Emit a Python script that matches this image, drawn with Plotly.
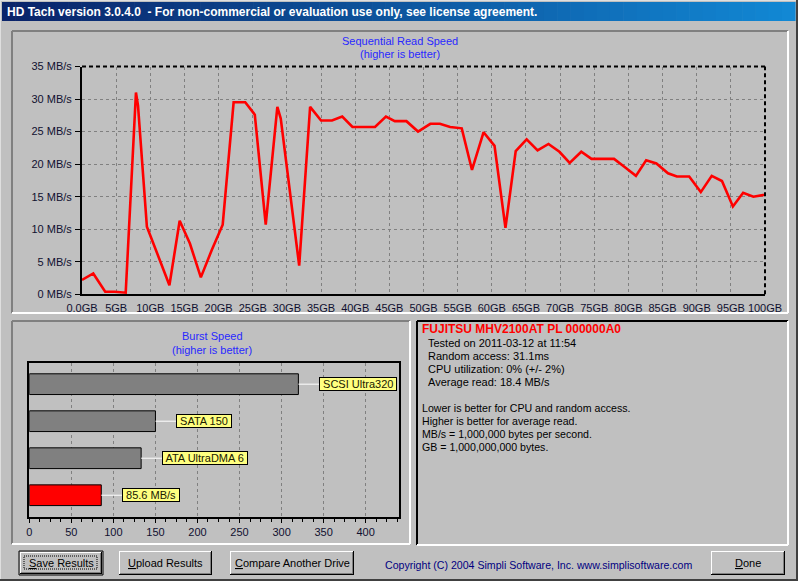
import plotly.graph_objects as go

W, H = 798, 581
FONT = "Liberation Sans, Arial, sans-serif"

# ---------------- data ----------------
position_gb = [0, 1.65, 3.4, 4.8, 6.4, 7.9, 8.2, 9.5, 12.8, 14.3, 15.8, 17.4, 19.0, 20.6,
               22.2, 23.9, 25.3, 26.9, 28.6, 29.1, 31.8, 33.4, 35.0, 36.6, 38.1, 39.6,
               42.9, 44.5, 45.8, 47.5, 49.2, 51.0, 52.4, 53.9, 55.6, 57.1, 58.8, 60.4,
               62.0, 63.5, 65.1, 66.7, 68.3, 69.9, 71.4, 73.1, 74.6, 76.2, 77.9, 79.4,
               81.1, 82.6, 84.1, 85.8, 87.1, 88.9, 90.6, 92.2, 93.7, 95.3, 96.8, 98.3, 100]
read_mbs = [2.2, 3.2, 0.4, 0.4, 0.25, 31.0, 29.0, 10.4, 1.4, 11.3, 7.8, 2.6, 6.8, 10.7,
            29.5, 29.5, 27.6, 10.7, 28.8, 27.0, 4.4, 28.8, 26.7, 26.7, 27.3, 25.7,
            25.7, 27.3, 26.6, 26.6, 25.0, 26.2, 26.2, 25.7, 25.5, 19.1, 24.9, 22.8,
            10.2, 22.0, 23.8, 22.1, 23.1, 21.9, 20.2, 21.9, 20.8, 20.8, 20.8, 19.6,
            18.2, 20.6, 20.1, 18.6, 18.1, 18.1, 15.7, 18.2, 17.4, 13.5, 15.6, 15.0, 15.3]

y_tick_vals = [0, 5, 10, 15, 20, 25, 30, 35]
y_tick_text = ["0 MB/s", "5 MB/s", "10 MB/s", "15 MB/s", "20 MB/s", "25 MB/s", "30 MB/s", "35 MB/s"]
x_tick_vals = list(range(0, 101, 5))
x_tick_text = ["0,0GB"] + [f"{v}GB" for v in range(5, 101, 5)]

burst_labels = ["SCSI Ultra320", "SATA 150", "ATA UltraDMA 6", "85.6 MB/s"]
burst_values = [320, 150, 133, 85.6]
burst_colors = ["#808080", "#808080", "#808080", "#FF0000"]
burst_ticks = [0, 50, 100, 150, 200, 250, 300, 350, 400]

drive_name = "FUJITSU MHV2100AT PL 000000A0"
info_lines = ["Tested on 2011-03-12 at 11:54", "Random access: 31.1ms",
              "CPU utilization: 0% (+/- 2%)", "Average read: 18.4 MB/s"]
note_lines = ["Lower is better for CPU and random access.", "Higher is better for average read.",
              "MB/s = 1,000,000 bytes per second.", "GB = 1,000,000,000 bytes."]

# ---------------- helpers ----------------
def X(p): return p / W
def Y(p): return 1 - p / H

shapes = []
annots = []

def line(x0, y0, x1, y1, color, width=1, dash=None, layer="above"):
    d = dict(type="line", xref="paper", yref="paper", x0=X(x0), y0=Y(y0), x1=X(x1), y1=Y(y1),
             line=dict(color=color, width=width), layer=layer)
    if dash:
        d["line"]["dash"] = dash
    shapes.append(d)

def rect(x0, y0, x1, y1, fill, lc=None, lw=0, dash=None, layer="below"):
    d = dict(type="rect", xref="paper", yref="paper", x0=X(x0), y0=Y(y0), x1=X(x1), y1=Y(y1),
             fillcolor=fill, line=dict(width=lw, color=lc or fill), layer=layer)
    if dash:
        d["line"]["dash"] = dash
    shapes.append(d)

def text(x, y, s, size=11, color="#000000", xanchor="left", bold=False):
    if bold:
        s = f"<b>{s}</b>"
    annots.append(dict(xref="paper", yref="paper", x=X(x), y=Y(y), text=s, showarrow=False,
                       xanchor=xanchor, yanchor="middle",
                       font=dict(family=FONT, size=size, color=color)))

def hexc(c): return tuple(int(c[i:i + 2], 16) for i in (1, 3, 5))

# ---------------- title bar (gradient) ----------------
line(0, 0.5, W, 0.5, "#DFDFDF", 1, layer="below")
c0, c1 = hexc("#0A246A"), hexc("#1288D4")
n = 60
x_start, x_end = 2, 795
for i in range(n):
    t = i / (n - 1)
    col = "#%02x%02x%02x" % tuple(int(c0[k] + (c1[k] - c0[k]) * t) for k in range(3))
    xa = x_start + (x_end - x_start) * i / n
    xb = x_start + (x_end - x_start) * (i + 1) / n + 0.6
    rect(xa, 2, xb, 21, col)
text(5, 12, "HD Tach version 3.0.4.0  - For non-commercial or evaluation use only, see license agreement.",
     size=12, color="#FFFFFF", bold=True)

# ---------------- panels ----------------
def sunken(x0, y0, x1, y1, dark="#808080", w=2):
    line(x0, y0, x1, y0, dark, w)
    line(x0, y0, x0, y1, dark, w)
    line(x0, y1, x1, y1, "#FFFFFF", w)
    line(x1, y0, x1, y1, "#FFFFFF", w)

sunken(12, 31, 788, 313)
sunken(12, 321, 410, 544)
sunken(417, 321, 788, 545, dark="#000000")

# window frame edges
line(0.5, 0, 0.5, H, "#DFDFDF", 1)
line(0, 580, W, 580, "#404040", 2)
line(797, 0, 797, H, "#404040", 2)

# ---------------- chart titles ----------------
BLUE = "#2828FF"
text(400, 41, "Sequential Read Speed", color=BLUE, xanchor="center")
text(400, 54, "(higher is better)", color=BLUE, xanchor="center")
text(212, 336, "Burst Speed", color=BLUE, xanchor="center")
text(212, 350, "(higher is better)", color=BLUE, xanchor="center")

# ---------------- info panel text ----------------
text(420, 329, drive_name, color="#FF0000", bold=True, size=12)
for i, s in enumerate(info_lines):
    text(426, 343 + 13 * i, s)
for i, s in enumerate(note_lines):
    text(420, 408 + 13 * i, s, size=10.6)

# ---------------- buttons ----------------
def button(x0, y0, x1, y1, label, default=False):
    rect(x0, y0, x1, y1, "#C0C0C0", layer="above")
    if default:
        line(x0, y0, x1, y0, "#000000", 1)
        line(x0, y0, x0, y1, "#000000", 1)
        line(x0, y1, x1, y1, "#000000", 1)
        line(x1, y0, x1, y1, "#000000", 1)
        x0, y0, x1, y1 = x0 + 1, y0 + 1, x1 - 1, y1 - 1
    line(x0, y0 + 0.5, x1, y0 + 0.5, "#FFFFFF", 1)
    line(x0 + 0.5, y0, x0 + 0.5, y1, "#FFFFFF", 1)
    line(x0, y1 - 0.5, x1, y1 - 0.5, "#000000", 1)
    line(x1 - 0.5, y0, x1 - 0.5, y1, "#000000", 1)
    line(x0 + 1, y1 - 1.5, x1 - 1, y1 - 1.5, "#808080", 1)
    line(x1 - 1.5, y0 + 1, x1 - 1.5, y1 - 1, "#808080", 1)
    if default:
        shapes.append(dict(type="rect", xref="paper", yref="paper", x0=X(x0 + 4), y0=Y(y0 + 4),
                           x1=X(x1 - 5), y1=Y(y1 - 5), line=dict(color="#000000", width=1, dash="1px,1px"),
                           fillcolor="rgba(0,0,0,0)", layer="above"))
    text((x0 + x1) / 2, (y0 + y1) / 2, label, xanchor="center")

button(19, 551, 103, 575, "<u>S</u>ave Results", default=True)
button(119, 551, 212, 575, "<u>U</u>pload Results")
button(230, 551, 354, 575, "<u>C</u>ompare Another Drive")
button(711, 551, 785, 575, "<u>D</u>one")

text(538, 565, "Copyright (C) 2004 Simpli Software, Inc. www.simplisoftware.com",
     color="#000080", xanchor="center", size=10.6)

# ---------------- figure ----------------
fig = go.Figure()

fig.add_trace(go.Scatter(x=position_gb, y=read_mbs, mode="lines",
                         line=dict(color="#FF0000", width=2.6), xaxis="x", yaxis="y",
                         hoverinfo="skip", showlegend=False))

burst_y = list(range(len(burst_labels)))
fig.add_trace(go.Bar(x=burst_values, y=burst_y, orientation="h", xaxis="x2", yaxis="y2",
                     marker=dict(color=burst_colors, line=dict(color="#000000", width=1)),
                     width=0.56, hoverinfo="skip", showlegend=False))

for i, (lab, v) in enumerate(zip(burst_labels, burst_values)):
    shapes.append(dict(type="line", xref="x2", yref="y2", x0=v, x1=v + 25, y0=i, y1=i,
                       line=dict(color="#FFFFFF", width=1), layer="above"))
    annots.append(dict(xref="x2", yref="y2", x=v + 25, y=i, text=f" {lab} ", showarrow=False,
                       xanchor="left", yanchor="middle", bgcolor="#FFFF80",
                       bordercolor="#000000", borderwidth=1, borderpad=0,
                       font=dict(family=FONT, size=11, color="#202000")))

shapes.append(dict(type="line", xref="x domain", yref="y domain", x0=0, x1=1, y0=1, y1=1,
                   line=dict(color="#000000", width=2, dash="4px,3px"), layer="above"))
shapes.append(dict(type="line", xref="x domain", yref="y domain", x0=1, x1=1, y0=0, y1=1,
                   line=dict(color="#000000", width=2, dash="4px,3px"), layer="above"))

GRID = "#808080"
tickfont = dict(family=FONT, size=11, color="#101030")

fig.update_layout(
    width=W, height=H, margin=dict(l=0, r=0, t=0, b=0, autoexpand=False),
    paper_bgcolor="#C0C0C0", plot_bgcolor="#C0C0C0",
    showlegend=False,
    xaxis=dict(domain=[X(82), X(765)], range=[0, 100], anchor="y", automargin=False,
               tickvals=x_tick_vals, ticktext=x_tick_text, tickfont=tickfont, tickangle=0,
               showgrid=True, gridcolor=GRID, griddash="3px,3px", gridwidth=1,
               showline=True, linecolor="#000000", linewidth=2, zeroline=False,
               ticks="", ticklabelstandoff=2, fixedrange=True),
    yaxis=dict(domain=[Y(294.3), Y(66.5)], range=[0, 35], anchor="x", automargin=False,
               tickvals=y_tick_vals, ticktext=y_tick_text, tickfont=tickfont,
               showgrid=True, gridcolor=GRID, griddash="3px,3px", gridwidth=1,
               showline=True, linecolor="#000000", linewidth=2, zeroline=False,
               ticks="outside", ticklen=5, tickcolor="#000000", ticklabelstandoff=1,
               fixedrange=True),
    xaxis2=dict(domain=[X(29.3), X(399.3)], range=[0, 440], anchor="y2", automargin=False,
                tickvals=burst_ticks, tickfont=tickfont, tickangle=0,
                showgrid=True, gridcolor=GRID, griddash="3px,3px", gridwidth=1,
                showline=True, linecolor="#000000", linewidth=2, mirror=True, zeroline=False,
                ticks="outside", ticklen=4, tickcolor="#000000",
                minor=dict(dtick=12.5, tick0=0, ticks="outside", ticklen=3, tickcolor="#000000",
                           showgrid=False),
                fixedrange=True),
    yaxis2=dict(domain=[Y(516.7), Y(362.7)], range=[3.58, -0.58], anchor="x2", automargin=False,
                showticklabels=False, ticks="", showgrid=False,
                showline=True, linecolor="#000000", linewidth=2, mirror=True, zeroline=False,
                fixedrange=True),
    shapes=shapes, annotations=annots,
)

fig.write_html("out.html", config={"displayModeBar": False, "staticPlot": True},
               post_script="document.body.style.margin='0';document.body.style.overflow='hidden';")
